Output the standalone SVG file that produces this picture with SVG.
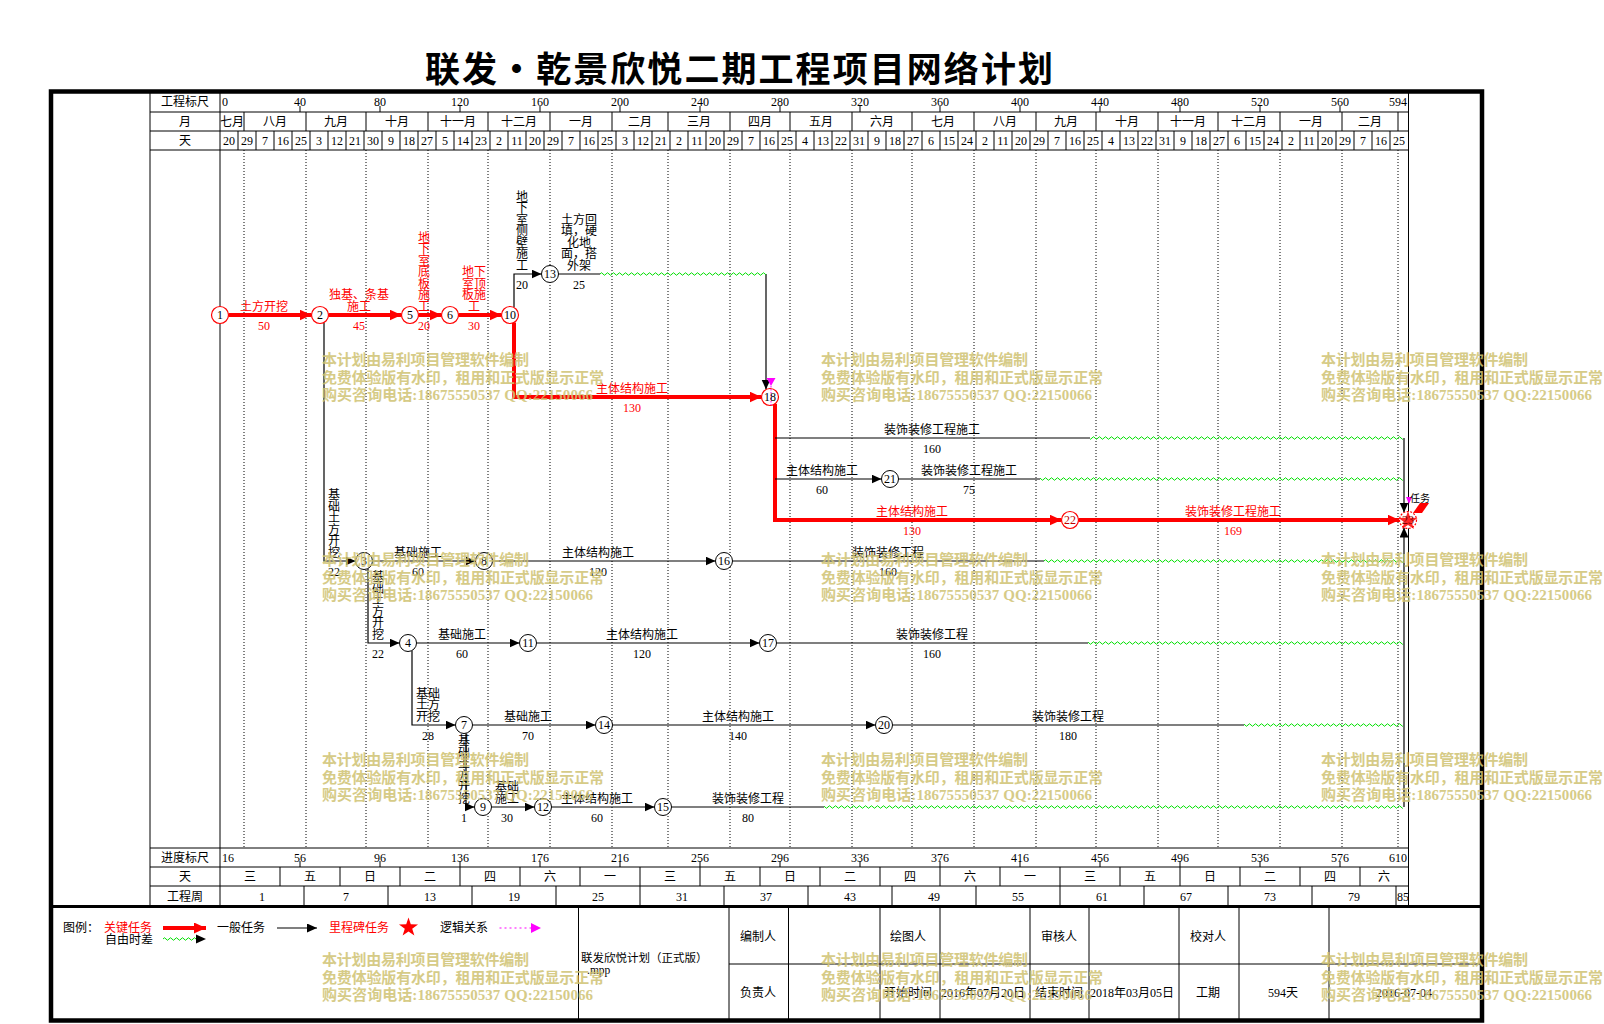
<svg xmlns="http://www.w3.org/2000/svg" width="1604" height="1024" viewBox="0 0 1604 1024">
<style>
.t{font-family:"Liberation Serif","Noto Sans CJK SC",serif;font-size:12px;fill:#000}
.c{text-anchor:middle}
.e{text-anchor:end}
.red{fill:#f00}
.ln{stroke:#000;stroke-width:1;fill:none}
.dt{stroke:#000;stroke-width:1;stroke-dasharray:1 2;fill:none}
.bl{stroke:#000;stroke-width:1.2;fill:none}
.rl{stroke:#f00;stroke-width:4;fill:none}
.nb{fill:#fff;stroke:#000;stroke-width:1}
.nr{fill:#fff;stroke:#f00;stroke-width:1.2}
.wm{font-family:"Liberation Serif","Noto Sans CJK SC",serif;font-size:15px;font-weight:bold;fill:#d0c373;opacity:.85}
</style>
<defs>
<marker id="ab" markerUnits="userSpaceOnUse" markerWidth="12" markerHeight="10" refX="10" refY="4.5" orient="auto"><path d="M0,0 L10,4.5 L0,9 z" fill="#000"/></marker>
<marker id="ar" markerUnits="userSpaceOnUse" markerWidth="14" markerHeight="12" refX="12" refY="5.5" orient="auto"><path d="M0,0 L12,5.5 L0,11 z" fill="#f00"/></marker>
<pattern id="wave" patternUnits="userSpaceOnUse" x="0" y="270" width="6" height="41"><path d="M0,4 Q1.5,1.5 3,4 T6,4" stroke="#00e000" stroke-width="1" fill="none"/></pattern>
<path id="star" d="M0,-10 L2.29,-3.15 L9.51,-3.09 L3.71,1.2 L5.88,8.09 L0,3.9 L-5.88,8.09 L-3.71,1.2 L-9.51,-3.09 L-2.29,-3.15 Z"/>
<g id="wmb" class="wm">
<text x="0" y="5.5" textLength="207" lengthAdjust="spacing">本计划由易利项目管理软件编制</text>
<text x="0" y="23" textLength="282" lengthAdjust="spacing">免费体验版有水印，租用和正式版显示正常</text>
<text x="0" y="40.5" textLength="271" lengthAdjust="spacing">购买咨询电话:18675550537 QQ:22150066</text>
</g>
</defs>
<rect width="1604" height="1024" fill="#fff"/>

<text x="425" y="82" textLength="628" lengthAdjust="spacing" style="font-family:'Noto Sans CJK SC',sans-serif;font-size:35px;font-weight:bold">联发·乾景欣悦二期工程项目网络计划</text>

<g id="frame">
<rect x="51" y="91.5" width="1431" height="929" fill="none" stroke="#000" stroke-width="4.5"/>
<line x1="49" y1="906.5" x2="1484" y2="906.5" stroke="#000" stroke-width="3"/>
<path class="ln" d="M150,91V906M220,91V906M1408.5,91V906M150,112H1408.5M150,131H1408.5M150,150H1408.5M150,848H1408.5M150,867H1408.5M150,886H1408.5"/>
<path class="ln" d="M244,112V131M306,112V131M366,112V131M428,112V131M488,112V131M550,112V131M612,112V131M668,112V131M730,112V131M790,112V131M852,112V131M912,112V131M974,112V131M1036,112V131M1096,112V131M1158,112V131M1218,112V131M1280,112V131M1342,112V131M1398,112V131"/>
<path class="ln" d="M238,131V150M256,131V150M274,131V150M292,131V150M310,131V150M328,131V150M346,131V150M364,131V150M382,131V150M400,131V150M418,131V150M436,131V150M454,131V150M472,131V150M490,131V150M508,131V150M526,131V150M544,131V150M562,131V150M580,131V150M598,131V150M616,131V150M634,131V150M652,131V150M670,131V150M688,131V150M706,131V150M724,131V150M742,131V150M760,131V150M778,131V150M796,131V150M814,131V150M832,131V150M850,131V150M868,131V150M886,131V150M904,131V150M922,131V150M940,131V150M958,131V150M976,131V150M994,131V150M1012,131V150M1030,131V150M1048,131V150M1066,131V150M1084,131V150M1102,131V150M1120,131V150M1138,131V150M1156,131V150M1174,131V150M1192,131V150M1210,131V150M1228,131V150M1246,131V150M1264,131V150M1282,131V150M1300,131V150M1318,131V150M1336,131V150M1354,131V150M1372,131V150M1390,131V150"/>
<path class="ln" d="M300,106V112M380,106V112M460,106V112M540,106V112M620,106V112M700,106V112M780,106V112M860,106V112M940,106V112M1020,106V112M1100,106V112M1180,106V112M1260,106V112M1340,106V112"/>
<path class="ln" d="M300,861V867M380,861V867M460,861V867M540,861V867M620,861V867M700,861V867M780,861V867M860,861V867M940,861V867M1020,861V867M1100,861V867M1180,861V867M1260,861V867M1340,861V867"/>
<path class="ln" d="M280,867V886M340,867V886M400,867V886M460,867V886M520,867V886M580,867V886M640,867V886M700,867V886M760,867V886M820,867V886M880,867V886M940,867V886M1000,867V886M1060,867V886M1120,867V886M1180,867V886M1240,867V886M1300,867V886M1360,867V886"/>
<path class="ln" d="M304,886V906M388,886V906M472,886V906M556,886V906M640,886V906M724,886V906M808,886V906M892,886V906M976,886V906M1060,886V906M1144,886V906M1228,886V906M1312,886V906M1396,886V906"/>
<path class="dt" d="M244,150V848M306,150V848M366,150V848M428,150V848M488,150V848M550,150V848M612,150V848M668,150V848M730,150V848M790,150V848M852,150V848M912,150V848M974,150V848M1036,150V848M1096,150V848M1158,150V848M1218,150V848M1280,150V848M1342,150V848M1398,150V848"/>
<path class="ln" d="M578.5,907V1020M729,907V1020M788.5,907V1020M880,907V1020M940,907V1020M1030,907V1020M1089,907V1020M1179,907V1020M1239,907V1020M1329,907V1020M729,964H1482"/>
</g>

<g id="scale-top" class="t">
<text class="c" x="185" y="106">工程标尺</text>
<text class="c" x="185" y="126">月</text>
<text class="c" x="185" y="145">天</text>
<text x="222" y="106">0</text>
<text class="c" x="300" y="106">40</text>
<text class="c" x="380" y="106">80</text>
<text class="c" x="460" y="106">120</text>
<text class="c" x="540" y="106">160</text>
<text class="c" x="620" y="106">200</text>
<text class="c" x="700" y="106">240</text>
<text class="c" x="780" y="106">280</text>
<text class="c" x="860" y="106">320</text>
<text class="c" x="940" y="106">360</text>
<text class="c" x="1020" y="106">400</text>
<text class="c" x="1100" y="106">440</text>
<text class="c" x="1180" y="106">480</text>
<text class="c" x="1260" y="106">520</text>
<text class="c" x="1340" y="106">560</text>
<text class="e" x="1407" y="106">594</text>
<text class="c" x="232" y="126">七月</text>
<text class="c" x="275" y="126">八月</text>
<text class="c" x="336" y="126">九月</text>
<text class="c" x="397" y="126">十月</text>
<text class="c" x="458" y="126">十一月</text>
<text class="c" x="519" y="126">十二月</text>
<text class="c" x="581" y="126">一月</text>
<text class="c" x="640" y="126">二月</text>
<text class="c" x="699" y="126">三月</text>
<text class="c" x="760" y="126">四月</text>
<text class="c" x="821" y="126">五月</text>
<text class="c" x="882" y="126">六月</text>
<text class="c" x="943" y="126">七月</text>
<text class="c" x="1005" y="126">八月</text>
<text class="c" x="1066" y="126">九月</text>
<text class="c" x="1127" y="126">十月</text>
<text class="c" x="1188" y="126">十一月</text>
<text class="c" x="1249" y="126">十二月</text>
<text class="c" x="1311" y="126">一月</text>
<text class="c" x="1370" y="126">二月</text>
<text class="c" x="229" y="145">20</text><text class="c" x="247" y="145">29</text><text class="c" x="265" y="145">7</text><text class="c" x="283" y="145">16</text><text class="c" x="301" y="145">25</text><text class="c" x="319" y="145">3</text><text class="c" x="337" y="145">12</text><text class="c" x="355" y="145">21</text><text class="c" x="373" y="145">30</text><text class="c" x="391" y="145">9</text><text class="c" x="409" y="145">18</text><text class="c" x="427" y="145">27</text><text class="c" x="445" y="145">5</text><text class="c" x="463" y="145">14</text><text class="c" x="481" y="145">23</text><text class="c" x="499" y="145">2</text><text class="c" x="517" y="145">11</text><text class="c" x="535" y="145">20</text><text class="c" x="553" y="145">29</text><text class="c" x="571" y="145">7</text><text class="c" x="589" y="145">16</text><text class="c" x="607" y="145">25</text><text class="c" x="625" y="145">3</text><text class="c" x="643" y="145">12</text><text class="c" x="661" y="145">21</text><text class="c" x="679" y="145">2</text><text class="c" x="697" y="145">11</text><text class="c" x="715" y="145">20</text><text class="c" x="733" y="145">29</text><text class="c" x="751" y="145">7</text><text class="c" x="769" y="145">16</text><text class="c" x="787" y="145">25</text><text class="c" x="805" y="145">4</text><text class="c" x="823" y="145">13</text><text class="c" x="841" y="145">22</text><text class="c" x="859" y="145">31</text><text class="c" x="877" y="145">9</text><text class="c" x="895" y="145">18</text><text class="c" x="913" y="145">27</text><text class="c" x="931" y="145">6</text><text class="c" x="949" y="145">15</text><text class="c" x="967" y="145">24</text><text class="c" x="985" y="145">2</text><text class="c" x="1003" y="145">11</text><text class="c" x="1021" y="145">20</text><text class="c" x="1039" y="145">29</text><text class="c" x="1057" y="145">7</text><text class="c" x="1075" y="145">16</text><text class="c" x="1093" y="145">25</text><text class="c" x="1111" y="145">4</text><text class="c" x="1129" y="145">13</text><text class="c" x="1147" y="145">22</text><text class="c" x="1165" y="145">31</text><text class="c" x="1183" y="145">9</text><text class="c" x="1201" y="145">18</text><text class="c" x="1219" y="145">27</text><text class="c" x="1237" y="145">6</text><text class="c" x="1255" y="145">15</text><text class="c" x="1273" y="145">24</text><text class="c" x="1291" y="145">2</text><text class="c" x="1309" y="145">11</text><text class="c" x="1327" y="145">20</text><text class="c" x="1345" y="145">29</text><text class="c" x="1363" y="145">7</text><text class="c" x="1381" y="145">16</text><text class="c" x="1399" y="145">25</text>
</g>

<g id="scale-bottom" class="t">
<text class="c" x="185" y="862">进度标尺</text>
<text class="c" x="185" y="881">天</text>
<text class="c" x="185" y="900.5">工程周</text>
<text x="222" y="862">16</text>
<text class="c" x="300" y="862">56</text>
<text class="c" x="380" y="862">96</text>
<text class="c" x="460" y="862">136</text>
<text class="c" x="540" y="862">176</text>
<text class="c" x="620" y="862">216</text>
<text class="c" x="700" y="862">256</text>
<text class="c" x="780" y="862">296</text>
<text class="c" x="860" y="862">336</text>
<text class="c" x="940" y="862">376</text>
<text class="c" x="1020" y="862">416</text>
<text class="c" x="1100" y="862">456</text>
<text class="c" x="1180" y="862">496</text>
<text class="c" x="1260" y="862">536</text>
<text class="c" x="1340" y="862">576</text>
<text class="e" x="1407" y="862">610</text>
<text class="c" x="250" y="881">三</text><text class="c" x="310" y="881">五</text><text class="c" x="370" y="881">日</text><text class="c" x="430" y="881">二</text><text class="c" x="490" y="881">四</text><text class="c" x="550" y="881">六</text><text class="c" x="610" y="881">一</text><text class="c" x="670" y="881">三</text><text class="c" x="730" y="881">五</text><text class="c" x="790" y="881">日</text><text class="c" x="850" y="881">二</text><text class="c" x="910" y="881">四</text><text class="c" x="970" y="881">六</text><text class="c" x="1030" y="881">一</text><text class="c" x="1090" y="881">三</text><text class="c" x="1150" y="881">五</text><text class="c" x="1210" y="881">日</text><text class="c" x="1270" y="881">二</text><text class="c" x="1330" y="881">四</text><text class="c" x="1384" y="881">六</text>
<text class="c" x="262" y="900.5">1</text><text class="c" x="346" y="900.5">7</text><text class="c" x="430" y="900.5">13</text><text class="c" x="514" y="900.5">19</text><text class="c" x="598" y="900.5">25</text><text class="c" x="682" y="900.5">31</text><text class="c" x="766" y="900.5">37</text><text class="c" x="850" y="900.5">43</text><text class="c" x="934" y="900.5">49</text><text class="c" x="1018" y="900.5">55</text><text class="c" x="1102" y="900.5">61</text><text class="c" x="1186" y="900.5">67</text><text class="c" x="1270" y="900.5">73</text><text class="c" x="1354" y="900.5">79</text><text class="c" x="1403" y="900.5">85</text>
</g>

<g id="connectors">
<path class="rl" d="M228.5,315H311.5" marker-end="url(#ar)"/>
<path class="rl" d="M328.5,315H401.5" marker-end="url(#ar)"/>
<path class="rl" d="M418.5,315H441.5" marker-end="url(#ar)"/>
<path class="rl" d="M458.5,315H501.5" marker-end="url(#ar)"/>
<path class="rl" d="M514,322.5V397H761.5" marker-end="url(#ar)"/>
<path class="rl" d="M775,404V520H1061.5" marker-end="url(#ar)"/>
<path class="rl" d="M1078.5,520H1399.5" marker-end="url(#ar)"/>
<path class="bl" d="M514,307.5V274H541.5" marker-end="url(#ab)"/>
<path class="bl" d="M558.5,274H600"/>
<path class="bl" d="M766,274V389.5" marker-end="url(#ab)"/>
<path class="bl" d="M775,438H1090"/>
<path class="bl" d="M775,479H881.5" marker-end="url(#ab)"/>
<path class="bl" d="M898.5,479H1040"/>
<path class="bl" d="M324,322.5V561H355.5" marker-end="url(#ab)"/>
<path class="bl" d="M372.5,561H475.5" marker-end="url(#ab)"/>
<path class="bl" d="M492.5,561H715.5" marker-end="url(#ab)"/>
<path class="bl" d="M732.5,561H1044"/>
<path class="bl" d="M368,568.5V643H399.5" marker-end="url(#ab)"/>
<path class="bl" d="M416.5,643H519.5" marker-end="url(#ab)"/>
<path class="bl" d="M536.5,643H759.5" marker-end="url(#ab)"/>
<path class="bl" d="M776.5,643H1088"/>
<path class="bl" d="M412,650.5V725H455.5" marker-end="url(#ab)"/>
<path class="bl" d="M472.5,725H595.5" marker-end="url(#ab)"/>
<path class="bl" d="M612.5,725H875.5" marker-end="url(#ab)"/>
<path class="bl" d="M892.5,725H1244"/>
<path class="bl" d="M466,733.3V807H474.5" marker-end="url(#ab)"/>
<path class="bl" d="M491.5,807H534.5" marker-end="url(#ab)"/>
<path class="bl" d="M551.5,807H654.5" marker-end="url(#ab)"/>
<path class="bl" d="M671.5,807H824"/>
<path class="bl" d="M1404,438V512.5" marker-end="url(#ab)"/>
<path class="bl" d="M1404,807V527.5" marker-end="url(#ab)"/>
<rect x="600" y="270" width="166" height="8" fill="url(#wave)"/>
<rect x="1090" y="434" width="313" height="8" fill="url(#wave)"/>
<rect x="1040" y="475" width="363" height="8" fill="url(#wave)"/>
<rect x="1044" y="557" width="359" height="8" fill="url(#wave)"/>
<rect x="1088" y="639" width="315" height="8" fill="url(#wave)"/>
<rect x="1244" y="721" width="159" height="8" fill="url(#wave)"/>
<rect x="824" y="803" width="579" height="8" fill="url(#wave)"/>
<path d="M771,386V406" stroke="#f0f" stroke-width="1" stroke-dasharray="1.5 1.5"/>
<polygon points="766.5,378 775.5,378 771,386" fill="#f0f"/>
<polygon points="1406,497 1412,497 1409,504" fill="#f0f"/>
</g>

<g id="labels" class="t">
<g class="red">
<text class="c" x="264" y="310.5">土方开挖</text><text class="c" x="264" y="329.5">50</text>
<text class="c" x="359" y="299">独基、条基</text><text class="c" x="359" y="310.5">施工</text><text class="c" x="359" y="329.5">45</text>
<text class="c" x="424" y="241.5">地<tspan x="424" dy="11.5">下</tspan><tspan x="424" dy="11.5">室</tspan><tspan x="424" dy="11.5">底</tspan><tspan x="424" dy="11.5">板</tspan><tspan x="424" dy="11.5">施</tspan><tspan x="424" dy="11.5">工</tspan></text><text class="c" x="424" y="329.5">20</text>
<text class="c" x="474" y="276">地下<tspan x="474" dy="11.5">室顶</tspan><tspan x="474" dy="11.5">板施</tspan><tspan x="474" dy="11.5">工</tspan></text><text class="c" x="474" y="329.5">30</text>
<text class="c" x="632" y="392.5">主体结构施工</text><text class="c" x="632" y="411.5">130</text>
<text class="c" x="912" y="515.5">主体结构施工</text><text class="c" x="912" y="534.5">130</text>
<text class="c" x="1233" y="515.5">装饰装修工程施工</text><text class="c" x="1233" y="534.5">169</text>
</g>
<text class="c" x="522" y="200.5">地<tspan x="522" dy="11.5">下</tspan><tspan x="522" dy="11.5">室</tspan><tspan x="522" dy="11.5">侧</tspan><tspan x="522" dy="11.5">壁</tspan><tspan x="522" dy="11.5">施</tspan><tspan x="522" dy="11.5">工</tspan></text><text class="c" x="522" y="288.5">20</text>
<text class="c" x="579" y="223.5">土方回<tspan x="579" dy="11.5">填，硬</tspan><tspan x="579" dy="11.5">化地</tspan><tspan x="579" dy="11.5">面，搭</tspan><tspan x="579" dy="11.5">外架</tspan></text><text class="c" x="579" y="288.5">25</text>
<text class="c" x="932" y="433.5">装饰装修工程施工</text><text class="c" x="932" y="452.5">160</text>
<text class="c" x="822" y="474.5">主体结构施工</text><text class="c" x="822" y="493.5">60</text>
<text class="c" x="969" y="474.5">装饰装修工程施工</text><text class="c" x="969" y="493.5">75</text>
<text class="c" x="334" y="499">基<tspan x="334" dy="11.5">础</tspan><tspan x="334" dy="11.5">土</tspan><tspan x="334" dy="11.5">方</tspan><tspan x="334" dy="11.5">开</tspan><tspan x="334" dy="11.5">挖</tspan></text><text class="c" x="334" y="575.5">22</text>
<text class="c" x="418" y="556.5">基础施工</text><text class="c" x="418" y="575.5">60</text>
<text class="c" x="598" y="556.5">主体结构施工</text><text class="c" x="598" y="575.5">120</text>
<text class="c" x="888" y="556.5">装饰装修工程</text><text class="c" x="888" y="575.5">160</text>
<text class="c" x="378" y="581">基<tspan x="378" dy="11.5">础</tspan><tspan x="378" dy="11.5">土</tspan><tspan x="378" dy="11.5">方</tspan><tspan x="378" dy="11.5">开</tspan><tspan x="378" dy="11.5">挖</tspan></text><text class="c" x="378" y="657.5">22</text>
<text class="c" x="462" y="638.5">基础施工</text><text class="c" x="462" y="657.5">60</text>
<text class="c" x="642" y="638.5">主体结构施工</text><text class="c" x="642" y="657.5">120</text>
<text class="c" x="932" y="638.5">装饰装修工程</text><text class="c" x="932" y="657.5">160</text>
<text class="c" x="428" y="697.5">基础<tspan x="428" dy="11.5">土方</tspan><tspan x="428" dy="11.5">开挖</tspan></text><text class="c" x="428" y="739.5">28</text>
<text class="c" x="528" y="720.5">基础施工</text><text class="c" x="528" y="739.5">70</text>
<text class="c" x="738" y="720.5">主体结构施工</text><text class="c" x="738" y="739.5">140</text>
<text class="c" x="1068" y="720.5">装饰装修工程</text><text class="c" x="1068" y="739.5">180</text>
<text class="c" x="464" y="745">基<tspan x="464" dy="11.5">础</tspan><tspan x="464" dy="11.5">土</tspan><tspan x="464" dy="11.5">方</tspan><tspan x="464" dy="11.5">开</tspan><tspan x="464" dy="11.5">挖</tspan></text><text class="c" x="464" y="821.5">1</text>
<text class="c" x="507" y="791">基础<tspan x="507" dy="11.5">施工</tspan></text><text class="c" x="507" y="821.5">30</text>
<text class="c" x="597" y="802.5">主体结构施工</text><text class="c" x="597" y="821.5">60</text>
<text class="c" x="748" y="802.5">装饰装修工程</text><text class="c" x="748" y="821.5">80</text>
</g>

<g id="nodes" class="t">
<g id="n1"><circle class="nr" cx="220" cy="315" r="8.5"/><text class="c" x="220" y="319">1</text></g>
<g id="n2"><circle class="nr" cx="320" cy="315" r="8.5"/><text class="c" x="320" y="319">2</text></g>
<g id="n5"><circle class="nr" cx="410" cy="315" r="8.5"/><text class="c" x="410" y="319">5</text></g>
<g id="n6"><circle class="nr" cx="450" cy="315" r="8.5"/><text class="c" x="450" y="319">6</text></g>
<g id="n10"><circle class="nr" cx="510" cy="315" r="8.5"/><text class="c" x="510" y="319">10</text></g>
<g id="n13"><circle class="nb" cx="550" cy="274" r="8.5"/><text class="c" x="550" y="278">13</text></g>
<g id="n18"><circle class="nr" cx="770" cy="397" r="8.5"/><path d="M771,389V405" stroke="#f0f" stroke-width="1" stroke-dasharray="1.5 1.5"/><text class="c" x="770" y="401">18</text></g>
<g id="n21"><circle class="nb" cx="890" cy="479" r="8.5"/><text class="c" x="890" y="483">21</text></g>
<g id="n22"><circle class="nr" cx="1070" cy="520" r="8.5"/><text class="c" x="1070" y="524" fill="#c00000">22</text></g>
<g id="n3"><circle class="nb" cx="364" cy="561" r="8.5"/><text class="c" x="364" y="565">3</text></g>
<g id="n8"><circle class="nb" cx="484" cy="561" r="8.5"/><text class="c" x="484" y="565">8</text></g>
<g id="n16"><circle class="nb" cx="724" cy="561" r="8.5"/><text class="c" x="724" y="565">16</text></g>
<g id="n4"><circle class="nb" cx="408" cy="643" r="8.5"/><text class="c" x="408" y="647">4</text></g>
<g id="n11"><circle class="nb" cx="528" cy="643" r="8.5"/><text class="c" x="528" y="647">11</text></g>
<g id="n17"><circle class="nb" cx="768" cy="643" r="8.5"/><text class="c" x="768" y="647">17</text></g>
<g id="n7"><circle class="nb" cx="464" cy="725" r="8.5"/><text class="c" x="464" y="729">7</text></g>
<g id="n14"><circle class="nb" cx="604" cy="725" r="8.5"/><text class="c" x="604" y="729">14</text></g>
<g id="n20"><circle class="nb" cx="884" cy="725" r="8.5"/><text class="c" x="884" y="729">20</text></g>
<g id="n9"><circle class="nb" cx="483" cy="807" r="8.5"/><text class="c" x="483" y="811">9</text></g>
<g id="n12"><circle class="nb" cx="543" cy="807" r="8.5"/><text class="c" x="543" y="811">12</text></g>
<g id="n15"><circle class="nb" cx="663" cy="807" r="8.5"/><text class="c" x="663" y="811">15</text></g>
<g id="n23"><circle cx="1408" cy="520" r="8.5" fill="#fff" stroke="#f00" stroke-width="1.2" stroke-dasharray="2 1.5"/><use href="#star" x="1408" y="521" fill="#f00" fill-opacity="0.85"/><text class="c" x="1408" y="524" fill="#800000">23</text><polygon points="1420,503 1429,503 1422,513 1413,513" fill="#f00"/><text x="1410" y="501.5" style="font-size:10px">任务</text></g>
</g>

<g id="legend" class="t">
<text x="63" y="932">图例：</text>
<text class="red" x="104" y="932">关键任务</text>
<text x="105" y="943.5">自由时差</text>
<path class="rl" d="M163,928H206" marker-end="url(#ar)"/>
<path d="M163,939q1.5,-2.5 3,0t3,0t3,0t3,0t3,0t3,0t3,0t3,0t3,0t3,0t3,0" stroke="#00e000" stroke-width="1" fill="none"/>
<polygon points="196,934.5 206,939 196,943.5" fill="#000"/>
<text x="217" y="932">一般任务</text>
<path class="bl" d="M277,928H317" marker-end="url(#ab)"/>
<text class="red" x="329" y="932">里程碑任务</text>
<use href="#star" x="408.5" y="927.5" fill="#f00"/>
<text x="440" y="932">逻辑关系</text>
<path d="M499.5,928H531" stroke="#f0f" stroke-width="1.2" stroke-dasharray="2 3"/>
<polygon points="531,923 541,928 531,933" fill="#f0f"/>
<text x="581" y="962" style="font-size:11.5px">联发欣悦计划（正式版）</text>
<text x="587" y="974" style="font-size:11.5px">.mpp</text>
<text class="c" x="758" y="941">编制人</text>
<text class="c" x="908" y="941">绘图人</text>
<text class="c" x="1059" y="941">审核人</text>
<text class="c" x="1208" y="941">校对人</text>
<text class="c" x="758" y="997">负责人</text>
<text class="c" x="908" y="997">开始时间</text>
<text class="c" x="983" y="997">2016年07月20日</text>
<text class="c" x="1059" y="997">结束时间</text>
<text class="c" x="1132" y="997">2018年03月05日</text>
<text class="c" x="1208" y="997">工期</text>
<text class="c" x="1283" y="997">594天</text>
<text class="c" x="1404" y="997">2016-07-04</text>
</g>

<g id="watermarks">
<use href="#wmb" x="322" y="359.5"/><use href="#wmb" x="821" y="359.5"/><use href="#wmb" x="1321" y="359.5"/>
<use href="#wmb" x="322" y="559.5"/><use href="#wmb" x="821" y="559.5"/><use href="#wmb" x="1321" y="559.5"/>
<use href="#wmb" x="322" y="759.5"/><use href="#wmb" x="821" y="759.5"/><use href="#wmb" x="1321" y="759.5"/>
<use href="#wmb" x="322" y="959.5"/><use href="#wmb" x="821" y="959.5"/><use href="#wmb" x="1321" y="959.5"/>
</g>
</svg>
